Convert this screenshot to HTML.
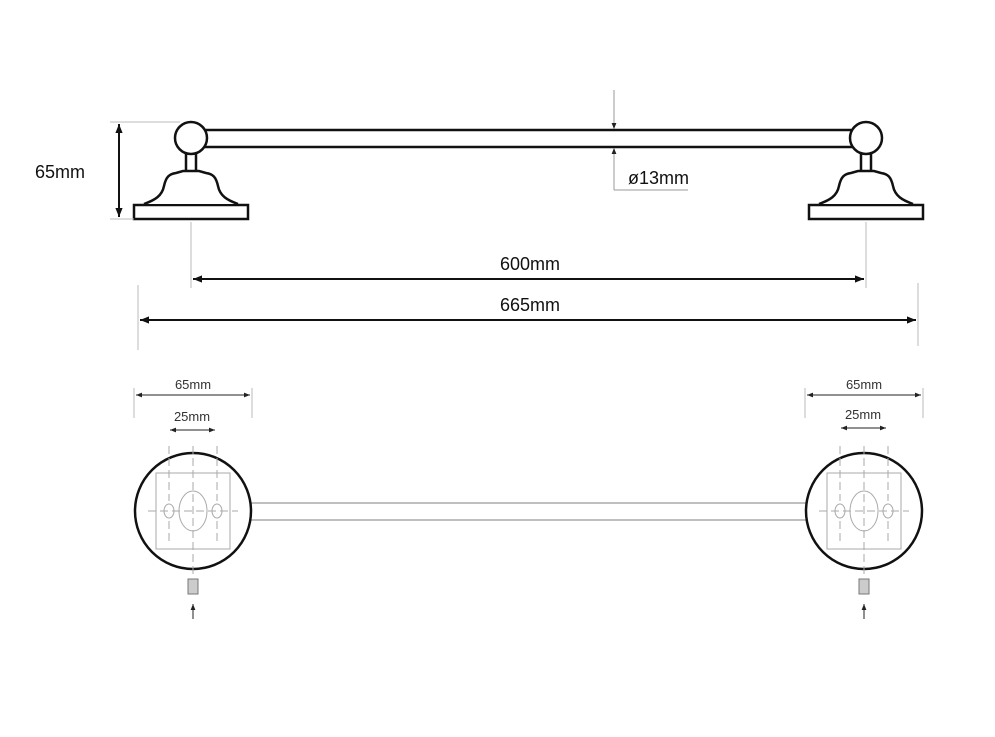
<!DOCTYPE html>
<html><head><style>html,body{margin:0;padding:0;background:#fff}svg{display:block}</style></head>
<body>
<svg width="995" height="737" viewBox="0 0 995 737" xmlns="http://www.w3.org/2000/svg" font-family="Liberation Sans, sans-serif">
<defs>
<marker id="a" viewBox="0 0 10 10" refX="10" refY="5" markerWidth="9" markerHeight="9" orient="auto-start-reverse" markerUnits="userSpaceOnUse"><path d="M0,1 L10,5 L0,9z" fill="#111"/></marker>
<marker id="s" viewBox="0 0 10 10" refX="10" refY="5" markerWidth="6" markerHeight="6" orient="auto-start-reverse" markerUnits="userSpaceOnUse"><path d="M0,1 L10,5 L0,9z" fill="#222"/></marker>
<g id="bk">
<rect x="-57" y="205" width="114" height="14" fill="#fff" stroke="#111" stroke-width="2.5"/>
<path d="M-47,204 C-36,200 -29,196 -27,186 C-25,177 -22,174 -15,173 L-8,171 L8,171 L15,173 C22,174 25,177 27,186 C29,196 36,200 47,204" fill="#fff" stroke="#111" stroke-width="2.5"/>
<path d="M-5,154 L-5,171 M5,154 L5,171" stroke="#111" stroke-width="2.5"/>
<circle cx="0" cy="138" r="16" fill="#fff" stroke="#111" stroke-width="2.5"/>
</g>
<g id="ft">
<circle cx="0" cy="0" r="58" fill="none" stroke="#111" stroke-width="2.5"/>
<rect x="-37" y="-38" width="74" height="76" fill="none" stroke="#aaa" stroke-width="1"/>
<ellipse cx="0" cy="0" rx="14" ry="20" fill="none" stroke="#aaa"/>
<ellipse cx="-24" cy="0" rx="5" ry="7" fill="none" stroke="#aaa"/>
<ellipse cx="24" cy="0" rx="5" ry="7" fill="none" stroke="#aaa"/>
<path d="M0,-65 V65 M-24,-65 V-10 M24,-65 V-10 M-24,10 V30 M24,10 V30 M-45,0 H45" stroke="#aaa" stroke-dasharray="8,4" fill="none"/>
<rect x="-5" y="68" width="10" height="15" fill="#ccc" stroke="#777"/>
<path d="M0,108 V93" stroke="#222" marker-end="url(#s)"/>
</g>
</defs>
<path d="M195,130 H860 M195,147 H860" stroke="#111" stroke-width="2.5"/>
<use href="#bk" x="191" y="0"/>
<use href="#bk" x="866" y="0"/>
<path d="M110,122 H180 M110,219 H134" stroke="#bbb"/>
<path d="M119,124 V217" stroke="#111" stroke-width="2" marker-start="url(#a)" marker-end="url(#a)"/>
<text x="35" y="178" font-size="18" fill="#111">65mm</text>
<path d="M614,90 V129" stroke="#999" marker-end="url(#s)"/>
<path d="M614,190 V148" stroke="#999" marker-end="url(#s)"/>
<path d="M614,190 H688" stroke="#999"/>
<text x="628" y="184" font-size="18" fill="#111">ø13mm</text>
<path d="M191,222 V288 M866,222 V288" stroke="#bbb"/>
<path d="M193,279 H864" stroke="#111" stroke-width="2" marker-start="url(#a)" marker-end="url(#a)"/>
<text x="530" y="270" font-size="18" text-anchor="middle" fill="#111">600mm</text>
<path d="M138,285 V350 M918,283 V346" stroke="#bbb"/>
<path d="M140,320 H916" stroke="#111" stroke-width="2" marker-start="url(#a)" marker-end="url(#a)"/>
<text x="530" y="311" font-size="18" text-anchor="middle" fill="#111">665mm</text>
<path d="M251,503 H806 M251,520 H806" stroke="#999" stroke-width="1.3"/>
<use href="#ft" x="193" y="511"/>
<use href="#ft" x="864" y="511"/>
<path d="M134,388 V418 M252,388 V418" stroke="#bbb"/>
<path d="M136,395 H250" stroke="#222" marker-start="url(#s)" marker-end="url(#s)"/>
<text x="193" y="389" font-size="13" text-anchor="middle" fill="#333">65mm</text>
<path d="M170,430 H215" stroke="#222" marker-start="url(#s)" marker-end="url(#s)"/>
<text x="192" y="421" font-size="13" text-anchor="middle" fill="#333">25mm</text>
<path d="M805,388 V418 M923,388 V418" stroke="#bbb"/>
<path d="M807,395 H921" stroke="#222" marker-start="url(#s)" marker-end="url(#s)"/>
<text x="864" y="389" font-size="13" text-anchor="middle" fill="#333">65mm</text>
<path d="M841,428 H886" stroke="#222" marker-start="url(#s)" marker-end="url(#s)"/>
<text x="863" y="419" font-size="13" text-anchor="middle" fill="#333">25mm</text>
</svg>
</body></html>
